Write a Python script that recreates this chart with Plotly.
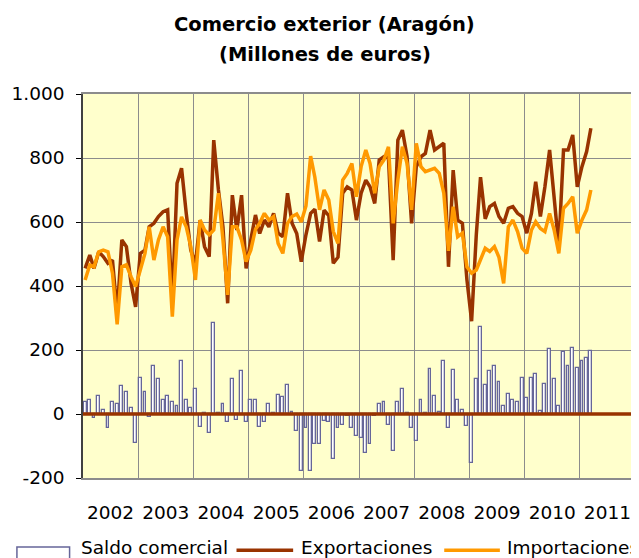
import pandas as pd
import plotly.graph_objects as go


# ==========================================================
# DATA (millones de euros, mensual desde enero 2002)
# ==========================================================

first_month = "2002-01-01"

exportaciones = [
    455, 497, 455, 507, 492, 471, 481, 315, 544, 523,
    408, 335, 502, 512, 585, 596, 617, 632, 638, 350,
    721, 768, 627, 512, 471, 606, 523, 492, 856, 700,
    585, 346, 684, 575, 684, 455, 544, 622, 564, 606,
    585, 627, 565, 554, 690, 596, 564, 476, 560, 627,
    640, 539, 637, 620, 471, 490, 690, 710, 700, 606,
    690, 731, 710, 658, 794, 804, 800, 481, 856, 887,
    804, 596, 773, 804, 814, 887, 825, 835, 846, 460,
    762, 606, 596, 420, 290, 560, 740, 610, 648, 658,
    617, 596, 643, 648, 627, 617, 565, 627, 726, 617,
    710, 825, 679, 523, 825, 825, 872, 710, 773, 820, 893,
]

importaciones = [
    419, 466, 460, 507, 512, 507, 440, 280, 460, 466,
    429, 398, 450, 502, 585, 481, 544, 585, 554, 304,
    544, 616, 585, 523, 419, 606, 575, 560, 575, 690,
    544, 372, 585, 585, 544, 476, 512, 577, 596, 627,
    606, 617, 533, 502, 596, 617, 625, 600, 650, 806,
    740, 638, 700, 669, 570, 533, 731, 752, 783, 679,
    773, 825, 783, 690, 773, 794, 835, 596, 731, 835,
    783, 638, 846, 773, 757, 762, 768, 752, 690, 510,
    648, 554, 565, 460, 440, 450, 481, 518, 508, 523,
    490, 408, 585, 606, 570, 518, 502, 575, 601, 580,
    570, 627, 575, 502, 643, 658, 679, 565, 606, 638, 700,
]

saldo = [
    39, 45, -14, 56, 14, -45, 37, 31, 87, 68,
    18, -90, 112, 68, -8, 150, 108, 45, 56, 37,
    24, 165, 45, 18, 77, -40, 3, -58, 284, 2,
    32, -26, 108, -20, 134, -26, 45, 45, -42, -26,
    32, 2, 58, 53, 90, 7, -53, -179, -45, -179,
    -95, -95, -21, -26, -142, -45, -35, -5, -45, -68,
    -74, -121, -95, -5, 32, 37, -35, -116, 37, 77,
    3, -45, -84, 45, 2, 140, 56, 5, 165, -45,
    139, 45, 14, -39, -153, 108, 271, 90, 134, 150,
    100, 26, 63, 45, 39, 114, 51, 114, 125, 8,
    95, 203, 108, 26, 195, 150, 207, 144, 165, 176, 197,
]

meses = pd.date_range(first_month, periods=len(saldo), freq="MS") + pd.Timedelta(days=14)

y_ticks = [-200, 0, 200, 400, 600, 800, 1000]
y_tick_labels = ["-200", "0", "200", "400", "600", "800", "1.000"]


# ==========================================================
# STYLE
# ==========================================================

FONT = "DejaVu Sans, Liberation Sans, Arial, sans-serif"
BROWN = "#993300"
ORANGE = "#FF9900"
BAR_LINE = "#666699"
GRID = "#8C8C8C"

# the page body has an 8px margin, so the figure is 8px smaller
WIDTH, HEIGHT = 631, 550


# ==========================================================
# FIGURE
# ==========================================================

fig = go.Figure()

fig.add_trace(
    go.Bar(
        x=meses,
        y=saldo,
        name="Saldo comercial",
        width=19 * 24 * 3600 * 1000,
        marker=dict(color="white", line=dict(color=BAR_LINE, width=1.3)),
    )
)

fig.add_trace(
    go.Scatter(
        x=meses,
        y=exportaciones,
        name="Exportaciones",
        mode="lines",
        line=dict(color=BROWN, width=3.5),
    )
)

fig.add_trace(
    go.Scatter(
        x=meses,
        y=importaciones,
        name="Importaciones",
        mode="lines",
        line=dict(color=ORANGE, width=3.5),
    )
)

fig.update_layout(
    width=WIDTH,
    height=HEIGHT,
    margin=dict(l=71.5, r=4, t=85.5, b=79.5),
    paper_bgcolor="white",
    plot_bgcolor="#FFFFCC",
    showlegend=False,
    font=dict(family=FONT, color="black", size=18.5),
    bargap=0,
)

fig.update_xaxes(
    type="date",
    range=["2002-01-01", "2012-01-01"],
    tick0="2002-01-01",
    dtick="M12",
    tickformat="%Y",
    ticklabelmode="period",
    ticklabelstandoff=17,
    showgrid=True,
    gridcolor=GRID,
    gridwidth=1,
    ticks="",
    showline=True,
    linecolor=GRID,
    linewidth=1.5,
    mirror=True,
    zeroline=False,
    tickfont=dict(size=18.5),
)

fig.update_yaxes(
    range=[-200, 1000],
    tickmode="array",
    tickvals=y_ticks,
    ticktext=y_tick_labels,
    showgrid=True,
    gridcolor=GRID,
    gridwidth=1,
    ticks="outside",
    ticklen=5,
    tickcolor="black",
    ticklabelstandoff=8,
    showline=True,
    linecolor="#404040",
    linewidth=1.5,
    zeroline=False,
    tickfont=dict(size=18.5),
)

# eje de categorías en el cero y marco derecho
fig.add_shape(
    type="line", xref="paper", x0=0, x1=1, yref="y", y0=0, y1=0,
    line=dict(color=BROWN, width=3.5), layer="above",
)
fig.add_shape(
    type="line", xref="paper", x0=1, x1=1, yref="paper", y0=0, y1=1,
    line=dict(color=GRID, width=2), layer="above",
)

# títulos
fig.add_annotation(
    text="<b>Comercio exterior (Aragón)</b>", xref="paper", yref="paper",
    x=0.4383, y=1.18, yanchor="middle", showarrow=False, font=dict(size=19.5),
)
fig.add_annotation(
    text="<b>(Millones de euros)</b>", xref="paper", yref="paper",
    x=0.4383, y=1.104, yanchor="middle", showarrow=False, font=dict(size=19.5),
)

# leyenda dibujada a mano (recortada al pie como en el original)
LEG_Y = -0.188
fig.add_shape(
    type="rect", xref="paper", yref="paper",
    x0=-0.1197, x1=-0.0243, y0=-0.180, y1=-0.215,
    line=dict(color=BAR_LINE, width=1.5), fillcolor="white",
)
fig.add_shape(
    type="line", xref="paper", yref="paper",
    x0=0.2781, x1=0.3807, y0=LEG_Y, y1=LEG_Y,
    line=dict(color=BROWN, width=3.5),
)
fig.add_shape(
    type="line", xref="paper", yref="paper",
    x0=0.6544, x1=0.7552, y0=LEG_Y, y1=LEG_Y,
    line=dict(color=ORANGE, width=3.5),
)
for label, xpos in [("Saldo comercial", -0.0081), ("Exportaciones", 0.3915), ("Importaciones", 0.7642)]:
    fig.add_annotation(
        text=label, xref="paper", yref="paper", x=xpos, y=-0.182,
        xanchor="left", yanchor="middle", showarrow=False, font=dict(size=18.5),
    )

fig.write_html("out.html")
